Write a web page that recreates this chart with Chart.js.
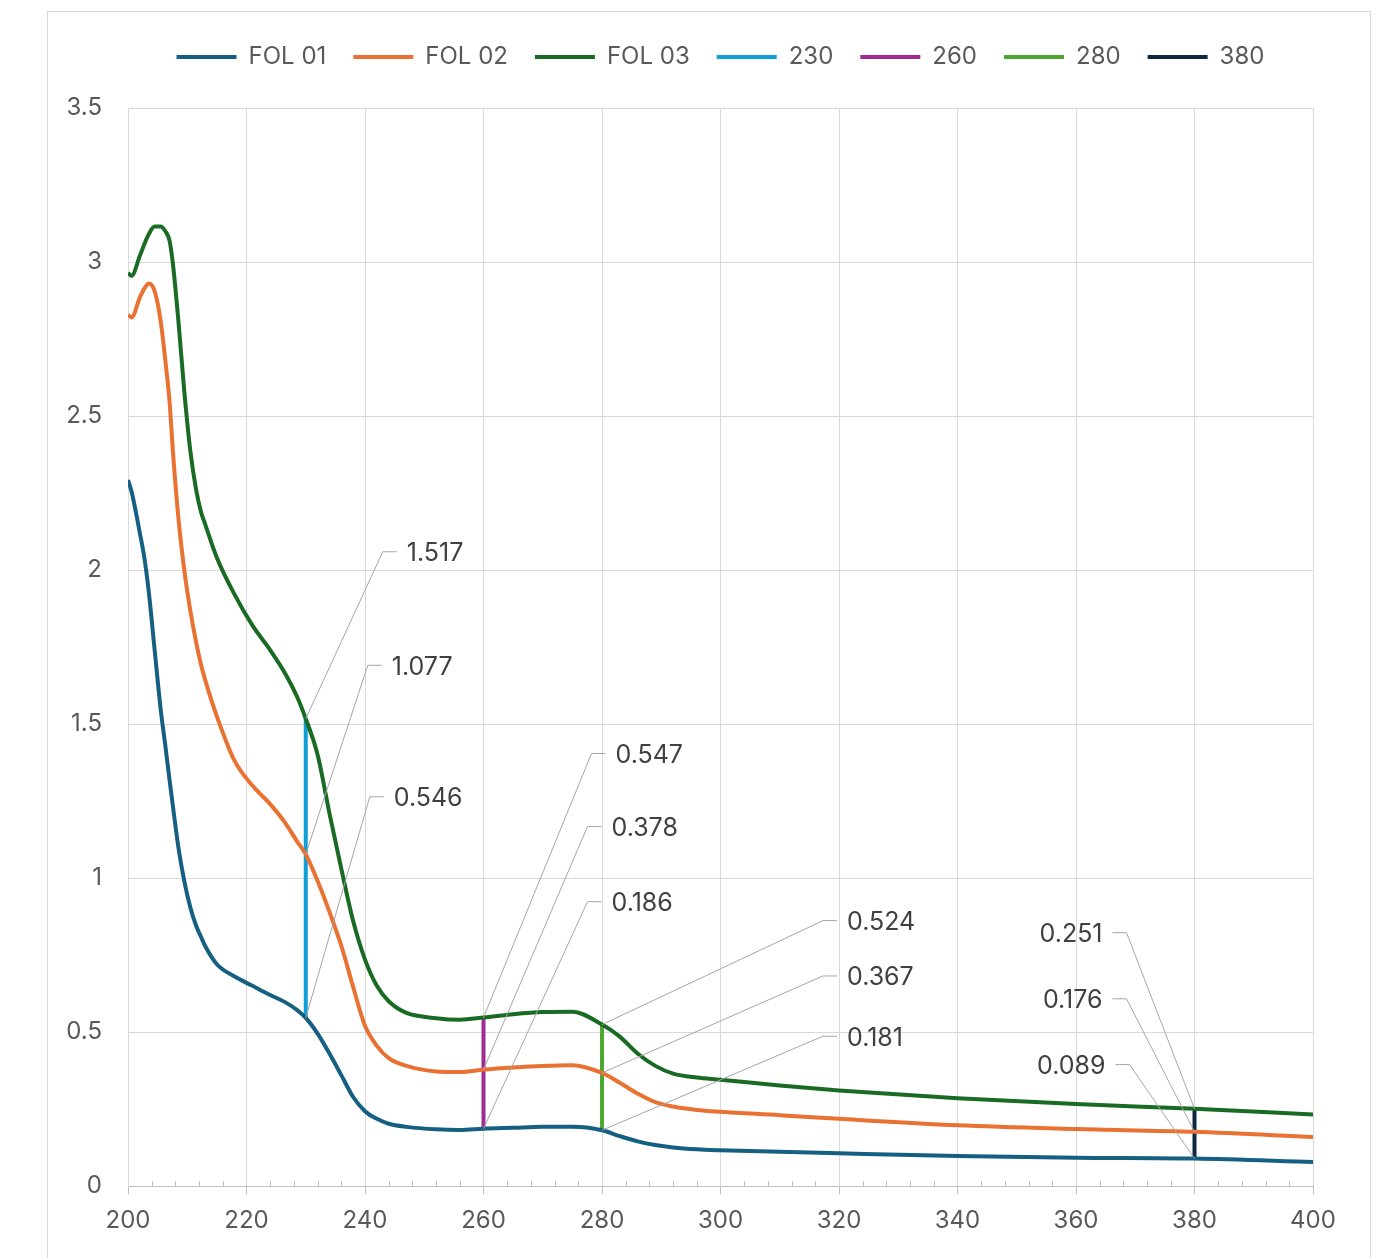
<!DOCTYPE html>
<html lang="en">
<head>
<meta charset="UTF-8">
<title>FOL spectra</title>
<script src="https://cdn.jsdelivr.net/npm/chart.js"></script>
<style>
    body { margin: 0; background: #fff; }
    #wrap { width: 1399px; height: 1258px; }
</style>
</head>
<body>
<div id="wrap"><canvas id="spectra" width="1399" height="1258"></canvas></div>
<script>
// wavelength (nm) shared by the three samples
const wavelengths = [200, 200.6, 202, 202.8, 203.5, 204.5, 205.5, 206.3, 207, 207.6, 208.5,
    209.5, 210.5, 211.5, 212.3, 213, 215, 218, 221, 224, 226.5, 228.5,
    230, 232, 234, 236, 238, 240, 242, 244, 247, 252,
    256, 260, 265, 270, 275, 280, 283, 286, 289, 292,
    296, 300, 310, 320, 340, 360, 380, 400];
const fol01 = [2.292, 2.255, 2.12, 2.035, 1.93, 1.74, 1.55, 1.43, 1.32, 1.23, 1.10,
    0.99, 0.906, 0.845, 0.81, 0.78, 0.72, 0.68, 0.65, 0.62, 0.597, 0.572,
    0.546, 0.495, 0.43, 0.36, 0.289, 0.243, 0.218, 0.202, 0.192, 0.184,
    0.182, 0.186, 0.189, 0.192, 0.192, 0.181, 0.162, 0.145, 0.133, 0.125,
    0.119, 0.116, 0.111, 0.106, 0.097, 0.092, 0.089, 0.078];
const fol02 = [2.828, 2.82, 2.885, 2.915, 2.93, 2.905, 2.81, 2.68, 2.55, 2.38, 2.17,
    2.0, 1.87, 1.765, 1.695, 1.645, 1.525, 1.38, 1.30, 1.24, 1.18, 1.12,
    1.077, 0.99, 0.89, 0.78, 0.646, 0.52, 0.455, 0.415, 0.39, 0.372,
    0.37, 0.378, 0.385, 0.39, 0.392, 0.367, 0.335, 0.30, 0.272, 0.258,
    0.247, 0.241, 0.23, 0.218, 0.197, 0.185, 0.176, 0.159];
const fol03 = [2.964, 2.955, 3.02, 3.06, 3.09, 3.115, 3.115, 3.10, 3.07, 2.99, 2.81,
    2.58, 2.39, 2.26, 2.19, 2.15, 2.04, 1.92, 1.82, 1.74, 1.665, 1.59,
    1.517, 1.40, 1.21, 1.03, 0.86, 0.735, 0.65, 0.60, 0.562, 0.545,
    0.54, 0.547, 0.558, 0.565, 0.566, 0.524, 0.485, 0.43, 0.39, 0.365,
    0.352, 0.345, 0.326, 0.31, 0.285, 0.266, 0.251, 0.232];

// marker wavelengths and the readings at them
const markerWavelengths = [230, 260, 280, 380];
const markerFol01 = [0.546, 0.186, 0.181, 0.089];
const markerFol02 = [1.077, 0.378, 0.367, 0.176];
const markerFol03 = [1.517, 0.547, 0.524, 0.251];

const xTickValues = [200, 220, 240, 260, 280, 300, 320, 340, 360, 380, 400];
const yTickValues = [0, 0.5, 1, 1.5, 2, 2.5, 3, 3.5];

const seriesNames = ['FOL 01', 'FOL 02', 'FOL 03'];
const seriesColors = ['#156082', '#e97132', '#196b24'];
const markerColors = ['#0f9ed5', '#a02b93', '#4ea72e', '#0e2841'];

// leader line elbows, px from the point (FOL 01, FOL 02, FOL 03)
const calloutOffsets = [
    [[64, -221], [62, -189], [77, -167]],
    [[104, -227], [104, -243], [108, -264]],
    [[221, -94], [221, -97], [221, -104]],
    [[-65, -94], [-68, -133], [-68, -176]]
];

const FONT = 'Inter, "Noto Sans", sans-serif';

const datasets = [fol01, fol02, fol03].map((vals, i) => ({
    label: seriesNames[i],
    data: wavelengths.map((w, j) => ({ x: w, y: vals[j] })),
    borderColor: seriesColors[i],
    backgroundColor: seriesColors[i],
    borderWidth: 4,
    pointRadius: 0,
    cubicInterpolationMode: 'monotone'
}));
markerWavelengths.forEach((w, i) => {
    datasets.push({
        label: String(w),
        data: [{ x: w, y: markerFol01[i] }, { x: w, y: markerFol03[i] }],
        borderColor: markerColors[i],
        backgroundColor: markerColors[i],
        borderWidth: 4,
        pointRadius: 0
    });
});

const frame = {
    id: 'frame',
    beforeDraw(chart) {
        const ctx = chart.ctx;
        ctx.save();
        ctx.fillStyle = '#fff';
        ctx.fillRect(0, 0, chart.width, chart.height);
        ctx.strokeStyle = '#d9d9d9';
        ctx.lineWidth = 1;
        ctx.strokeRect(47.5, 11.5, 1323, 1300);
        ctx.restore();
    }
};

const minorTicks = {
    id: 'minorTicks',
    beforeDatasetsDraw(chart) {
        const { ctx, scales: { x }, chartArea } = chart;
        ctx.save();
        ctx.strokeStyle = '#bfbfbf';
        ctx.lineWidth = 1;
        for (let v = 204; v < 400; v += 4) {
            if (v % 20 === 0) continue;
            const px = Math.round(x.getPixelForValue(v)) + 0.5;
            ctx.beginPath();
            ctx.moveTo(px, chartArea.bottom - 5);
            ctx.lineTo(px, chartArea.bottom);
            ctx.stroke();
        }
        ctx.restore();
    }
};

const callouts = {
    id: 'callouts',
    afterDatasetsDraw(chart) {
        const { ctx, scales: { x, y } } = chart;
        const groups = [markerFol01, markerFol02, markerFol03];
        ctx.save();
        ctx.font = '25px ' + FONT;
        ctx.textBaseline = 'middle';
        markerWavelengths.forEach((w, i) => {
            groups.forEach((vals, s) => {
                const ax = x.getPixelForValue(w);
                const ay = y.getPixelForValue(vals[i]);
                const [dx, dy] = calloutOffsets[i][s];
                const ex = ax + dx, ey = ay + dy;
                const dir = dx > 0 ? 1 : -1;
                ctx.strokeStyle = '#a6a6a6';
                ctx.lineWidth = 1;
                ctx.beginPath();
                ctx.moveTo(ax, ay);
                ctx.lineTo(ex, ey);
                ctx.lineTo(ex + dir * 14, ey);
                ctx.stroke();
                ctx.fillStyle = '#404040';
                ctx.textAlign = dir > 0 ? 'left' : 'right';
                ctx.fillText(vals[i].toFixed(3), ex + dir * 24, ey + 2);
            });
        });
        ctx.restore();
    }
};

const chart = new Chart(document.getElementById('spectra'), {
    type: 'line',
    data: { datasets },
    plugins: [frame, minorTicks, callouts],
    options: {
        responsive: false,
        animation: false,
        layout: { padding: { left: 47, right: 86, top: 18, bottom: 0 } },
        plugins: {
            tooltip: { enabled: false },
            legend: {
                position: 'top',
                fullSize: false,
                labels: {
                    boxWidth: 60,
                    boxHeight: 4,
                    padding: 27,
                    color: '#595959',
                    font: { family: FONT, size: 24 },
                    generateLabels(c) {
                        return Chart.defaults.plugins.legend.labels.generateLabels(c)
                            .map(item => ({ ...item, fillStyle: item.strokeStyle, lineWidth: 0 }));
                    }
                }
            }
        },
        scales: {
            x: {
                type: 'linear',
                min: 200,
                max: 400,
                afterBuildTicks: s => { s.ticks = xTickValues.map(v => ({ value: v })); },
                afterFit: s => { s.height = 72; },
                grid: { color: '#d9d9d9', tickLength: 8, tickColor: '#bfbfbf' },
                border: { color: '#bfbfbf' },
                ticks: { color: '#595959', padding: 12, maxRotation: 0, font: { family: FONT, size: 24 },
                    callback: v => String(v) }
            },
            y: {
                min: 0,
                max: 3.5,
                afterBuildTicks: s => { s.ticks = yTickValues.map(v => ({ value: v })); },
                afterFit: s => { s.width = 81; },
                grid: { color: '#d9d9d9', drawTicks: false },
                border: { color: '#d9d9d9' },
                ticks: { color: '#595959', padding: 26, font: { family: FONT, size: 24 },
                    callback: v => String(v) }
            }
        }
    }
});

// give the legend the same band height as the original (top of plot at y≈108)
const baseFit = chart.legend.fit;
chart.legend.fit = function () {
    baseFit.call(this);
    this.height = 90;
};
chart.update();
</script>
</body>
</html>
